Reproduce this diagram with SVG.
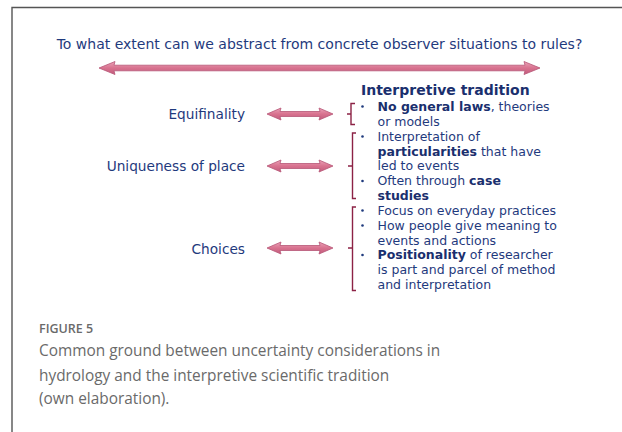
<svg xmlns="http://www.w3.org/2000/svg" width="622" height="432" viewBox="0 0 622 432">
  <style>
    .q { font-family: "DejaVu Sans", Verdana, sans-serif; fill: #1f3a7d; }
    .lbl { font-size: 13.7px; text-anchor: end; }
    .body { font-size: 12.5px; }
    .b { font-weight: bold; fill: #1a2f6e; }
    .brace { fill: none; stroke: #8c2245; stroke-width: 1.4; }
    .dot { fill: #1f3a7d; }
    .cap { font-family: "Open Sans", "Liberation Sans", sans-serif; fill: #6a6a6a; }
    .arrow { fill: url(#pink); stroke: #b65576; stroke-width: 0.8; }
  </style>
  <defs>
    <linearGradient id="pink" x1="0" y1="0" x2="0" y2="1">
      <stop offset="0" stop-color="#eaa2b7"/>
      <stop offset="0.5" stop-color="#d8728f"/>
      <stop offset="1" stop-color="#c25c7d"/>
    </linearGradient>
    <!-- short double-headed arrow, 66 wide, centred on y=0 -->
    <path id="dbl" d="M0,0 L14,-6 L13,-2.5 L53,-2.5 L52,-6 L66,0 L52,6 L53,2.5 L13,2.5 L14,6 Z"/>
  </defs>

  <rect width="622" height="432" fill="#ffffff"/>
  <!-- figure frame (open to the right and bottom) -->
  <path d="M12,432 V7.5 H622" fill="none" stroke="#555555" stroke-width="1.4"/>

  <text class="q" x="319.5" y="49" font-size="14" text-anchor="middle">To what extent can we abstract from concrete observer situations to rules?</text>

  <g id="connectors">
    <path class="arrow" d="M99,68 L115,61.5 L114,65.2 L525,65.2 L524,61.5 L540,68 L524,74.5 L525,70.8 L114,70.8 L115,74.5 Z"/>
    <use href="#dbl" class="arrow" x="267" y="114"/>
    <use href="#dbl" class="arrow" x="267" y="166"/>
    <use href="#dbl" class="arrow" x="267" y="248"/>
  </g>

  <g id="equifinality">
    <text class="q lbl" x="245" y="119">Equifinality</text>
  </g>
  <g id="uniqueness">
    <text class="q lbl" x="245" y="171">Uniqueness of place</text>
  </g>
  <g id="choices">
    <text class="q lbl" x="245" y="254">Choices</text>
  </g>

  <g id="interpretive-tradition">
    <text class="q b" x="361" y="95" font-size="14">Interpretive tradition</text>

    <!-- braces -->
    <path class="brace" d="M355,103.5 H351 V124.5 H355 M351,114 H347"/>
    <path class="brace" d="M356,133 H352.5 V198.5 H356 M352.5,166 H348"/>
    <path class="brace" d="M356,207 H352.5 V290.5 H356 M352.5,248 H348"/>

    <!-- bullets -->
    <circle class="dot" cx="362.5" cy="106.5" r="1.3"/>
    <circle class="dot" cx="362.5" cy="136.5" r="1.3"/>
    <circle class="dot" cx="362.5" cy="181" r="1.3"/>
    <circle class="dot" cx="362.5" cy="210.5" r="1.3"/>
    <circle class="dot" cx="362.5" cy="225.5" r="1.3"/>
    <circle class="dot" cx="362.5" cy="255" r="1.3"/>

    <text class="q body" x="377.5" y="110.7"><tspan class="b">No general laws</tspan>, theories</text>
    <text class="q body" x="377.5" y="125.7">or models</text>
    <text class="q body" x="377.5" y="140.7">Interpretation of</text>
    <text class="q body" x="377.5" y="155.5"><tspan class="b">particularities</tspan> that have</text>
    <text class="q body" x="377.5" y="170.3">led to events</text>
    <text class="q body" x="377.5" y="185.2">Often through <tspan class="b">case</tspan></text>
    <text class="q body" x="377.5" y="200"><tspan class="b">studies</tspan></text>
    <text class="q body" x="377.5" y="214.8">Focus on everyday practices</text>
    <text class="q body" x="377.5" y="229.7">How people give meaning to</text>
    <text class="q body" x="377.5" y="244.6">events and actions</text>
    <text class="q body" x="377.5" y="259.4"><tspan class="b">Positionality</tspan> of researcher</text>
    <text class="q body" x="377.5" y="274.3">is part and parcel of method</text>
    <text class="q body" x="377.5" y="289.2">and interpretation</text>
  </g>

  <!-- caption -->
  <text class="cap" x="39" y="333" font-size="12.5" font-weight="600">FIGURE 5</text>
  <text class="cap" x="39" y="356" font-size="15.4">Common ground between uncertainty considerations in</text>
  <text class="cap" x="39" y="380.5" font-size="15.4">hydrology and the interpretive scientific tradition</text>
  <text class="cap" x="39" y="404" font-size="15.4">(own elaboration).</text>
</svg>
